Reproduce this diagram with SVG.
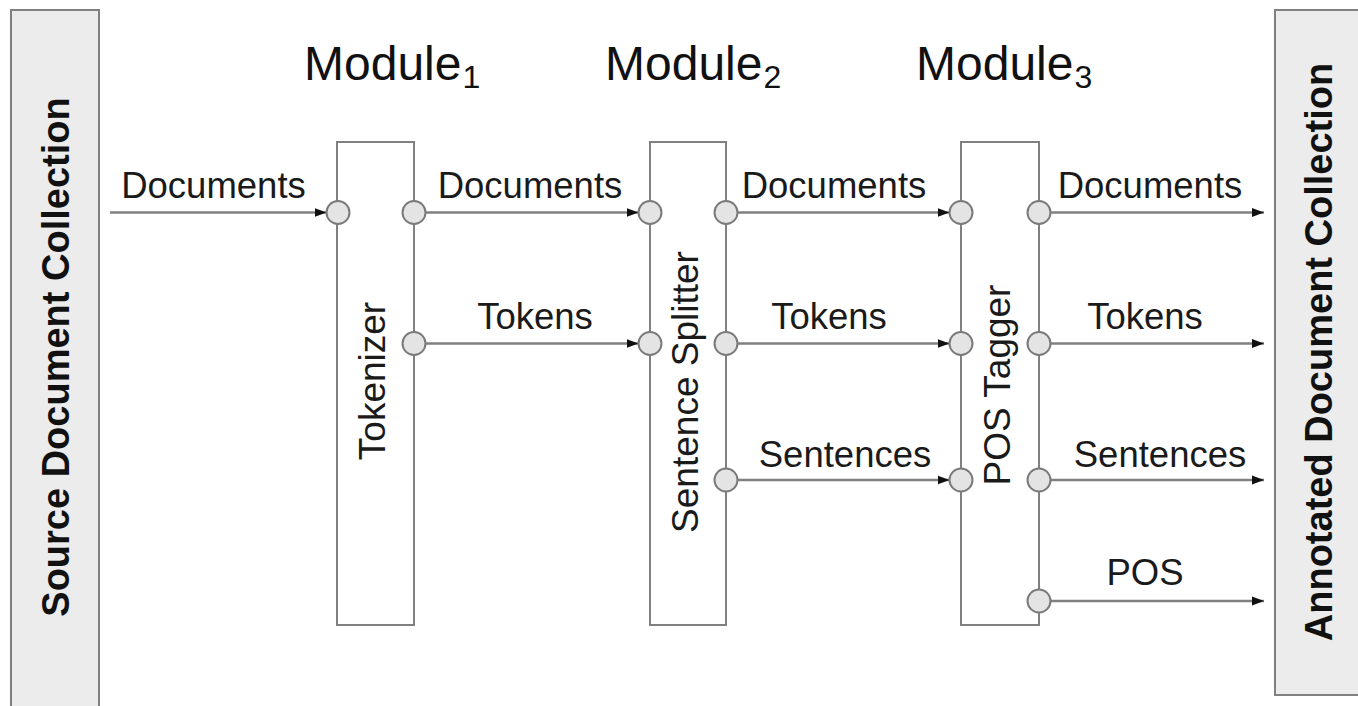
<svg xmlns="http://www.w3.org/2000/svg" width="1358" height="706" viewBox="0 0 1358 706">
<defs>
<marker id="arr" viewBox="0 0 12 10" refX="12" refY="5" markerWidth="12" markerHeight="10" markerUnits="userSpaceOnUse" orient="auto">
<path d="M0,0.5 L12,5 L0,9.5 Z" fill="#111"/>
</marker>
<style>
.big{fill:#ececec;stroke:#808080;stroke-width:2}
.mod{fill:#fff;stroke:#808080;stroke-width:2}
.port{fill:#e4e4e4;stroke:#7a7a7a;stroke-width:2}
.conn line{stroke:#808080;stroke-width:2.5;marker-end:url(#arr)}
.lbl{font-family:"Liberation Sans",Arial,sans-serif;font-size:36.5px;fill:#1a1a1a;text-anchor:middle}
.vt{font-family:"Liberation Sans",Arial,sans-serif;font-size:37px;fill:#1a1a1a;text-anchor:middle}
.bt{font-family:"Liberation Sans",Arial,sans-serif;font-size:38px;font-weight:bold;fill:#111;text-anchor:middle}
.title{font-family:"Liberation Sans",Arial,sans-serif;font-size:48px;fill:#111}
</style>
</defs>
<rect width="1358" height="706" fill="#fff"/>

<g id="source">
<rect class="big" x="11" y="10" width="88" height="710"/>
<text class="bt" transform="translate(69,357) rotate(-90)">Source Document Collection</text>
</g>

<g id="annotated">
<rect class="big" x="1275" y="10" width="100" height="685"/>
<text class="bt" transform="translate(1332,352) rotate(-90)">Annotated Document Collection</text>
</g>

<g id="titles">
<text class="title" x="304" y="80">Module<tspan font-size="32" dy="8" dx="1">1</tspan></text>
<text class="title" x="605" y="80">Module<tspan font-size="32" dy="8" dx="1">2</tspan></text>
<text class="title" x="916" y="80">Module<tspan font-size="32" dy="8" dx="1">3</tspan></text>
</g>

<g class="conn" id="connectors">
<line x1="110" y1="212.5" x2="326.5" y2="212.5"/>
<line x1="426" y1="212.5" x2="638.5" y2="212.5"/>
<line x1="426" y1="343.5" x2="638.5" y2="343.5"/>
<line x1="738" y1="212.5" x2="949.5" y2="212.5"/>
<line x1="738" y1="343.5" x2="949.5" y2="343.5"/>
<line x1="738" y1="480" x2="949.5" y2="480"/>
<line x1="1051" y1="212.5" x2="1264" y2="212.5"/>
<line x1="1051" y1="343.5" x2="1264" y2="343.5"/>
<line x1="1051" y1="480" x2="1264" y2="480"/>
<line x1="1051" y1="601" x2="1264" y2="601"/>
</g>

<g id="labels">
<text class="lbl" x="213.5" y="198">Documents</text>
<text class="lbl" x="530" y="198">Documents</text>
<text class="lbl" x="834" y="198">Documents</text>
<text class="lbl" x="1150" y="198">Documents</text>
<text class="lbl" x="535" y="329">Tokens</text>
<text class="lbl" x="829" y="329">Tokens</text>
<text class="lbl" x="1145" y="329">Tokens</text>
<text class="lbl" x="845" y="467">Sentences</text>
<text class="lbl" x="1160" y="467">Sentences</text>
<text class="lbl" x="1145" y="585">POS</text>
</g>

<g id="tokenizer">
<rect class="mod" x="337" y="142" width="77" height="483"/>
<text class="vt" transform="translate(385,381) rotate(-90)">Tokenizer</text>
<circle class="port" cx="338" cy="212.5" r="11.5"/>
<circle class="port" cx="414" cy="212.5" r="11.5"/>
<circle class="port" cx="414" cy="343.5" r="11.5"/>
</g>

<g id="splitter">
<rect class="mod" x="650" y="142" width="76" height="483"/>
<text class="vt" transform="translate(698,392) rotate(-90)">Sentence Splitter</text>
<circle class="port" cx="650" cy="212.5" r="11.5"/>
<circle class="port" cx="650" cy="343.5" r="11.5"/>
<circle class="port" cx="726" cy="212.5" r="11.5"/>
<circle class="port" cx="726" cy="343.5" r="11.5"/>
<circle class="port" cx="726" cy="480" r="11.5"/>
</g>

<g id="postagger">
<rect class="mod" x="961" y="142" width="78" height="483"/>
<text class="vt" transform="translate(1010,385) rotate(-90)">POS Tagger</text>
<circle class="port" cx="961" cy="212.5" r="11.5"/>
<circle class="port" cx="961" cy="343.5" r="11.5"/>
<circle class="port" cx="961" cy="480" r="11.5"/>
<circle class="port" cx="1039" cy="212.5" r="11.5"/>
<circle class="port" cx="1039" cy="343.5" r="11.5"/>
<circle class="port" cx="1039" cy="480" r="11.5"/>
<circle class="port" cx="1039" cy="601" r="11.5"/>
</g>
</svg>
